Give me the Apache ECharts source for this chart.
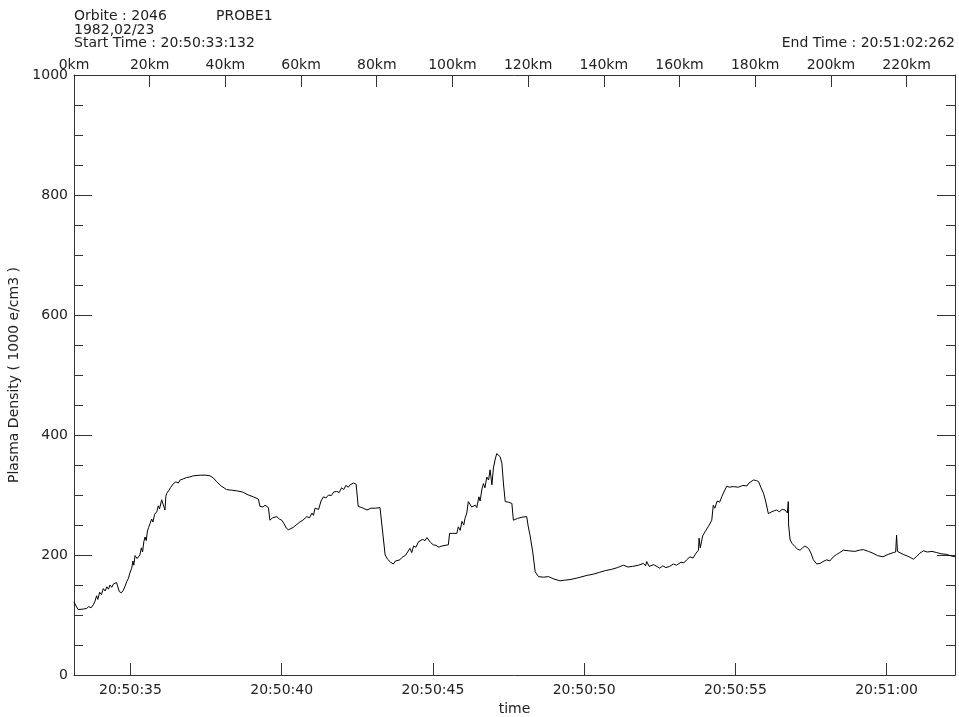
<!DOCTYPE html>
<html>
<head>
<meta charset="utf-8">
<title>Plasma Density - Orbite 2046</title>
<script src="https://cdn.jsdelivr.net/npm/echarts@6.0.0/dist/echarts.min.js"></script>
<style>
    html, body { margin: 0; padding: 0; background: #fff; }
    #main { width: 959px; height: 717px; }
</style>
</head>
<body>
<div id="main"></div>
<script>
// seconds after 20:50:00
var times = [
    33.13, 33.20, 33.27, 33.33, 33.45, 33.55, 33.62, 33.70, 33.77, 33.82, 33.88, 33.92, 33.98, 34.04, 34.10, 34.16,
    34.22, 34.27, 34.32, 34.38, 34.44, 34.50, 34.54, 34.58, 34.63, 34.70, 34.76, 34.82, 34.88, 34.93, 34.98, 35.04,
    35.08, 35.11, 35.15, 35.22, 35.31, 35.36, 35.40, 35.44, 35.48, 35.52, 35.56, 35.60, 35.65, 35.70, 35.74, 35.80,
    35.87, 35.92, 35.96, 36.03, 36.08, 36.14, 36.17, 36.20, 36.26, 36.32, 36.36, 36.42, 36.50, 36.58, 36.64, 36.75,
    36.85, 36.95, 37.08, 37.30, 37.50, 37.63, 37.75, 37.85, 38.00, 38.18, 38.35, 38.51, 38.70, 38.90, 39.06, 39.15,
    39.23, 39.28, 39.38, 39.45, 39.56, 39.61, 39.70, 39.76, 39.84, 39.92, 40.00, 40.08, 40.15, 40.22, 40.30, 40.38,
    40.50, 40.60, 40.70, 40.83, 40.92, 41.00, 41.05, 41.10, 41.16, 41.22, 41.30, 41.38, 41.46, 41.55, 41.64, 41.72,
    41.82, 41.90, 41.98, 42.05, 42.12, 42.20, 42.26, 42.32, 42.38, 42.42, 42.46, 42.53, 42.65, 42.82, 42.95, 43.10,
    43.25, 43.30, 43.42, 43.50, 43.60, 43.69, 43.76, 43.82, 43.91, 43.98, 44.04, 44.10, 44.16, 44.24, 44.30, 44.36,
    44.44, 44.52, 44.58, 44.66, 44.74, 44.80, 44.86, 44.92, 45.01, 45.10, 45.20, 45.29, 45.40, 45.51, 45.55, 45.65,
    45.79, 45.84, 45.90, 45.96, 46.02, 46.06, 46.12, 46.17, 46.22, 46.28, 46.34, 46.40, 46.45, 46.52, 46.56, 46.62,
    46.67, 46.72, 46.78, 46.84, 46.89, 46.95, 47.00, 47.06, 47.11, 47.17, 47.22, 47.28, 47.33, 47.39, 47.50, 47.61,
    47.66, 47.80, 47.95, 48.10, 48.15, 48.21, 48.30, 48.38, 48.49, 48.54, 48.65, 48.82, 49.00, 49.20, 49.35, 49.53,
    49.80, 50.09, 50.30, 50.50, 50.70, 50.90, 51.10, 51.30, 51.45, 51.60, 51.80, 51.96, 52.03, 52.07, 52.15, 52.30,
    52.50, 52.60, 52.70, 52.83, 52.95, 53.05, 53.20, 53.30, 53.39, 53.50, 53.60, 53.70, 53.78, 53.80, 53.84, 53.92,
    54.00, 54.10, 54.22, 54.27, 54.32, 54.40, 54.48, 54.55, 54.62, 54.72, 54.80, 54.93, 55.10, 55.25, 55.30, 55.38,
    55.45, 55.50, 55.60, 55.70, 55.77, 55.85, 55.93, 56.00, 56.09, 56.20, 56.30, 56.37, 56.45, 56.55, 56.64, 56.72,
    56.75, 56.76, 56.81, 56.88, 56.97, 57.05, 57.14, 57.22, 57.30, 57.36, 57.42, 57.50, 57.58, 57.69, 57.80, 57.90,
    58.02, 58.12, 58.24, 58.35, 58.45, 58.57, 58.75, 58.95, 59.10, 59.23, 59.40, 59.55, 59.70, 59.88, 60.05, 60.22,
    60.30, 60.33, 60.36, 60.39, 60.55, 60.70, 60.78, 60.89, 61.00, 61.10, 61.22, 61.35, 61.50, 61.66, 61.80, 61.99,
    62.10, 62.26
];
// plasma density, 1000 e/cm3
var density = [
    122, 115, 109, 108, 110, 111, 114, 112, 117, 122, 132, 126, 138, 134, 144, 140,
    147, 143, 150, 146, 152, 149, 154, 152, 139, 137, 141, 148, 156, 161, 170, 178,
    190, 183, 199, 194, 200, 212, 205, 222, 230, 224, 240, 246, 253, 260, 255, 268,
    272, 282, 277, 292, 295, 275, 298, 303, 307, 312, 309, 319, 322, 320, 325, 327,
    329, 330, 332, 333, 333, 332, 328, 322, 315, 309, 308, 307, 305, 300, 297, 295,
    293, 281, 280, 283, 279, 258, 262, 265, 264, 260, 258, 252, 245, 242, 244, 246,
    251, 255, 258, 264, 262, 270, 266, 278, 281, 276, 290, 297, 295, 300, 299, 305,
    306, 304, 312, 309, 316, 313, 317, 314, 320, 322, 318, 281, 279, 275, 278, 278,
    279, 276, 200, 193, 188, 185, 190, 187, 192, 196, 193, 200, 197, 211, 204, 215,
    213, 222, 219, 226, 224, 229, 228, 221, 217, 216, 213, 215, 216, 217, 236, 236,
    236, 247, 241, 256, 250, 261, 270, 289, 285, 280, 278, 283, 279, 297, 290, 310,
    319, 312, 330, 325, 342, 317, 345, 360, 369, 366, 364, 353, 320, 289, 288, 286,
    258, 261, 263, 264, 248, 233, 205, 172, 164, 161, 163, 164, 160, 157, 158, 159,
    162, 166, 168, 171, 174, 176, 179, 183, 180, 181, 183, 186, 182, 189, 181, 184,
    178, 182, 179, 181, 185, 183, 188, 187, 192, 197, 195, 203, 208, 228, 212, 232,
    239, 247, 258, 283, 278, 290, 288, 297, 305, 315, 313, 314, 313, 316, 313, 315,
    320, 317, 325, 324, 322, 312, 303, 290, 269, 272, 274, 275, 272, 276, 275, 270,
    289, 250, 225, 219, 214, 210, 208, 212, 215, 213, 211, 203, 192, 185, 186, 189,
    192, 190, 197, 201, 204, 208, 207, 206, 208, 209, 206, 203, 199, 197, 201, 204,
    205, 233, 206, 204, 201, 198, 196, 193, 198, 203, 207, 205, 206, 204, 202, 201,
    199, 197
];
var timeTicks = [35, 40, 45, 50, 55, 60];
var kmStep = 20;
var tStart = 33.132, tEnd = 62.262;
var kmEnd = 232.8;

var font = 'DejaVu Sans';
var txt = { fontFamily: font, fontSize: 14, color: '#222', fontWeight: 'normal' };

function timeLabel(v) {
    var s = Math.round(v);
    var m = 50 + Math.floor(s / 60);
    var ss = s % 60;
    return '20:' + m + ':' + (ss < 10 ? '0' : '') + ss;
}

var points = times.map(function (t, i) { return [t, density[i]]; });

var axisLine = { show: true, onZero: false, lineStyle: { color: '#333', width: 1 } };
var tickStyle = { color: '#333', width: 1 };

var option = {
    animation: false,
    backgroundColor: '#fff',
    title: [
        { text: 'Orbite : 2046', left: 74, top: 9, padding: 0, textStyle: txt },
        { text: 'PROBE1', left: 216, top: 9, padding: 0, textStyle: txt },
        { text: '1982,02/23', left: 74, top: 23, padding: 0, textStyle: txt },
        { text: 'Start Time : 20:50:33:132', left: 74, top: 36, padding: 0, textStyle: txt },
        { text: 'End Time : 20:51:02:262', right: 4, top: 36, padding: 0, textStyle: txt }
    ],
    grid: { left: 74, right: 4, top: 75, bottom: 42, outerBoundsMode: 'none' },
    xAxis: [
        {
            type: 'value',
            min: tStart,
            max: tEnd,
            name: 'time',
            nameLocation: 'middle',
            nameGap: 26,
            nameTextStyle: txt,
            axisLine: axisLine,
            splitLine: { show: false },
            axisTick: { inside: true, length: 12, customValues: timeTicks, lineStyle: tickStyle },
            axisLabel: { customValues: timeTicks, formatter: timeLabel, margin: 8, fontFamily: font, fontSize: 14, color: '#222' }
        },
        {
            type: 'value',
            position: 'top',
            min: 0,
            max: kmEnd,
            interval: kmStep,
            axisLine: axisLine,
            splitLine: { show: false },
            axisTick: { inside: true, length: 12, lineStyle: tickStyle },
            axisLabel: { showMaxLabel: false, formatter: '{value}km', margin: 3, fontFamily: font, fontSize: 14, color: '#222' }
        }
    ],
    yAxis: [
        {
            type: 'value',
            min: 0,
            max: 1000,
            interval: 200,
            name: 'Plasma Density ( 1000 e/cm3 )',
            nameLocation: 'middle',
            nameGap: 42,
            nameTextStyle: txt,
            axisLine: axisLine,
            splitLine: { show: false },
            axisTick: { inside: true, length: 18, lineStyle: tickStyle },
            minorTick: { show: true, splitNumber: 4, length: 9, lineStyle: tickStyle },
            axisLabel: { margin: 6, fontFamily: font, fontSize: 14, color: '#222', formatter: function (v) { return String(v); } }
        },
        {
            type: 'value',
            position: 'right',
            min: 0,
            max: 1000,
            interval: 200,
            axisLine: axisLine,
            splitLine: { show: false },
            axisTick: { inside: true, length: 18, lineStyle: tickStyle },
            minorTick: { show: true, splitNumber: 4, length: 9, lineStyle: tickStyle },
            axisLabel: { show: false }
        }
    ],
    series: [
        {
            type: 'line',
            xAxisIndex: 0,
            yAxisIndex: 0,
            showSymbol: false,
            lineStyle: { color: '#000', width: 1 },
            data: points
        }
    ]
};

var myChart = echarts.init(document.getElementById('main'));
myChart.setOption(option);
</script>
</body>
</html>
